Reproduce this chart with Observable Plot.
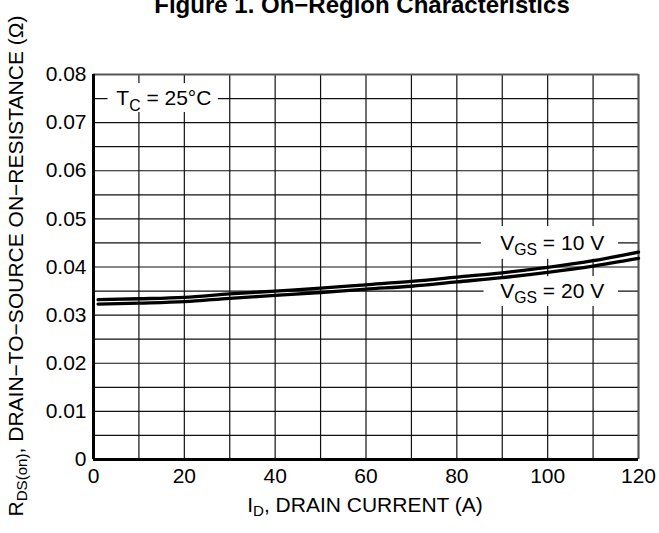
<!DOCTYPE html>
<html><head><meta charset="utf-8">
<script src="https://cdn.jsdelivr.net/npm/d3@7"></script>
<script src="https://cdn.jsdelivr.net/npm/@observablehq/plot@0.6"></script>
<style>
body{margin:0;background:#fff;font-family:"Liberation Sans",Arial,sans-serif;color:#000;}
#wrap{position:relative;width:659px;height:533px;overflow:hidden;}
.title{position:absolute;top:-9px;left:362px;transform:translateX(-50%);white-space:nowrap;font-weight:bold;font-size:24px;line-height:1.15;}
.xlab{position:absolute;left:365px;top:505px;transform:translate(-50%,-50%);white-space:nowrap;font-size:21px;}
.ylab{position:absolute;left:16px;top:266px;transform:translate(-50%,-50%) rotate(-90deg);white-space:nowrap;font-size:21px;}
sub{font-size:0.72em;vertical-align:-0.28em;line-height:0;}
svg{position:absolute;left:0;top:0;}
</style>
</head><body>
<div id="wrap">
  <div class="title">Figure 1. On−Region Characteristics</div>
</div>
<script>
// Drain current (A)
const current = [1, 10, 20, 30, 40, 50, 60, 70, 80, 90, 100, 110, 120];
// R_DS(on) (Ω) for each gate voltage
const rdsVgs10 = [0.0332, 0.0334, 0.0337, 0.0344, 0.0350, 0.0356, 0.0363, 0.0370, 0.0379, 0.0388, 0.0399, 0.0413, 0.0431];
const rdsVgs20 = [0.0323, 0.0325, 0.0328, 0.0335, 0.0341, 0.0347, 0.0354, 0.0360, 0.0369, 0.0378, 0.0389, 0.0402, 0.0418];
const seriesNames = ["VGS = 10 V", "VGS = 20 V"];
// tick values
const xTicks = [0, 20, 40, 60, 80, 100, 120];
const yTicks = [0, 0.01, 0.02, 0.03, 0.04, 0.05, 0.06, 0.07, 0.08];
// annotation labels (data coordinates)
const annoText = ["T_{C} = 25°C", "V_{GS} = 10 V", "V_{GS} = 20 V"];
const annoX = [15.5, 101, 101];
const annoY = [0.075, 0.045, 0.035];
const annoX1 = [3.2, 85.4, 86.0];
const annoX2 = [27.5, 115.6, 115.6];
const annoY1 = [0.0721, 0.0416, 0.0318];
const annoY2 = [0.0781, 0.0484, 0.0380];

const rows = [];
current.forEach((c, i) => {
  rows.push({current: c, rds: rdsVgs10[i], series: seriesNames[0]});
  rows.push({current: c, rds: rdsVgs20[i], series: seriesNames[1]});
});
const annos = annoText.map((t, i) => ({text: t, x: annoX[i], y: annoY[i], x1: annoX1[i], x2: annoX2[i], y1: annoY1[i], y2: annoY2[i]}));
const gridXv = d3.range(0, 13).map(i => i * 10);
const gridYv = d3.range(0, 17).map(i => +(i * 0.005).toFixed(3));

const chart = Plot.plot({
  width: 659, height: 533,
  marginLeft: 93, marginRight: 21, marginTop: 74, marginBottom: 74,
  style: {fontFamily: '"Liberation Sans", Arial, sans-serif', fontSize: "21px", color: "#000", background: "transparent"},
  x: {domain: [0, 120]},
  y: {domain: [0, 0.08]},
  marks: [
    Plot.gridX(gridXv, {stroke: "#111", strokeOpacity: 1, strokeWidth: 1.2}),
    Plot.gridY(gridYv, {stroke: "#111", strokeOpacity: 1, strokeWidth: 1.2}),
    Plot.ruleX([120], {stroke: "#555", strokeWidth: 2}),
    Plot.ruleY([0.08], {stroke: "#555", strokeWidth: 2}),
    Plot.rect(annos, {x1: "x1", x2: "x2", y1: "y1", y2: "y2", fill: "white"}),
    Plot.text(annos, {x: "x", y: "y", text: "text", fontSize: 21, fill: "#000"}),
    Plot.line(rows, {x: "current", y: "rds", z: "series", stroke: "#000", strokeWidth: 3.3, curve: "monotone-x"}),
    Plot.ruleX([0], {stroke: "#000", strokeWidth: 3}),
    Plot.ruleY([0], {stroke: "#000", strokeWidth: 3}),
    Plot.axisX(xTicks, {tickSize: 0, tickPadding: 9, label: null, fontSize: 21}),
    Plot.axisY(yTicks, {tickSize: 0, tickPadding: 7, label: null, fontSize: 21, tickFormat: d => d === 0 ? "0" : d.toFixed(2)})
  ]
});

// render subscripts inside SVG text
d3.select(chart).selectAll("text").each(function() {
  const s = this.textContent;
  if (!s.includes("_{")) return;
  const el = d3.select(this);
  el.text(null);
  const parts = s.split(/(_\{[^}]*\})/).filter(p => p.length);
  let shifted = false;
  parts.forEach(p => {
    if (p.startsWith("_{")) {
      el.append("tspan").attr("font-size", "0.75em").attr("dy", "0.35em").text(p.slice(2, -1));
      shifted = true;
    } else {
      const t = el.append("tspan").text(p);
      if (shifted) { t.attr("dy", "-0.26em"); shifted = false; }
    }
  });
});

const wrap = document.getElementById("wrap");
wrap.insertBefore(chart, wrap.firstChild);
const xl = document.createElement("div");
xl.className = "xlab";
xl.innerHTML = "I<sub>D</sub>, DRAIN CURRENT (A)";
wrap.appendChild(xl);
const yl = document.createElement("div");
yl.className = "ylab";
yl.innerHTML = "R<sub>DS(on)</sub>, DRAIN−TO−SOURCE ON−RESISTANCE (Ω)";
wrap.appendChild(yl);
</script>
</body></html>
